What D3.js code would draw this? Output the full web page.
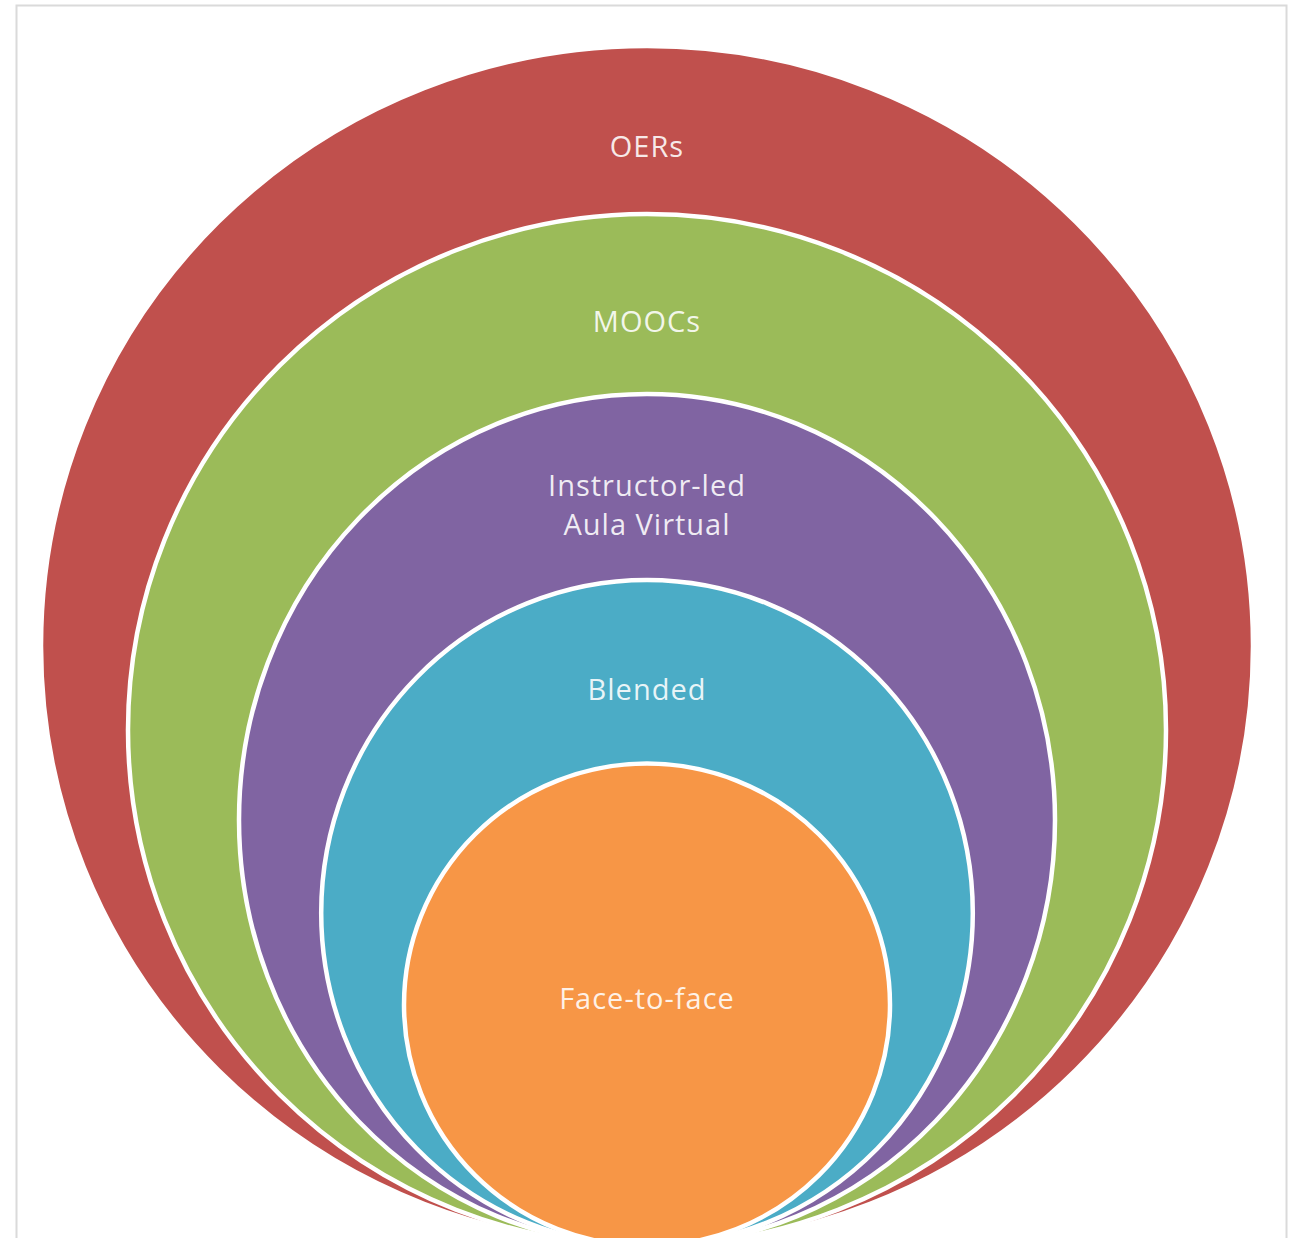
<!DOCTYPE html>
<html>
  <head>
    <meta charset="utf-8">
    <title>Stacked circles</title>
    <script src="https://d3js.org/d3.v7.min.js"></script>
    <style>
      body { margin: 0; background: #fff; }
      text { font-family: "Open Sans", "DejaVu Sans", sans-serif; }
    </style>
  </head>
  <body>

  <div id="chart"></div>

  <script>

  // outer to inner
  var labels = [["OERs"], ["MOOCs"], ["Instructor-led", "Aula Virtual"], ["Blended"], ["Face-to-face"]];
  var widths = [101, 86.5, 68, 54.3, 40.5];   // horizontal size of each ring
  var heights = [100, 86, 71, 55.5, 40.2];    // vertical size of each ring
  var colors = ["#C0504D", "#9BBB59", "#8064A2", "#4BACC6", "#F79646"];

  var width = 1294, height = 1238;
  var cx = 647, base = 1246; // all rings touch at this bottom point

  var r = d3.scaleLinear().domain([0, 100]).range([0, 600]);

  var svg = d3.select("#chart").append("svg")
      .attr("width", width)
      .attr("height", height);

  // thin frame of the original picture
  svg.append("rect")
      .attr("x", 16.5)
      .attr("y", 5.5)
      .attr("width", 1270)
      .attr("height", 1250)
      .attr("fill", "none")
      .attr("stroke", "#dadada")
      .attr("stroke-width", 2);

  var data = heights.map(function(d_, i_){
    return { h: d_, w: widths[i_], label: labels[i_], color: colors[i_], i: i_ };
  });

  svg.selectAll(".ring")
      .data(data)
      .enter()
      .append("ellipse")
      .attr("class", "ring")
      .attr("cx", cx)
      .attr("cy", function(d_){ return base - r(d_.h); })
      .attr("rx", function(d_){ return r(d_.w); })
      .attr("ry", function(d_){ return r(d_.h); })
      .attr("fill", function(d_){ return d_.color; })
      .attr("stroke", "#fff")
      .attr("stroke-width", 4.5);

  // label sits in the band between this ring top and the next one
  function labelY(d_){
    var top = base - 2 * r(d_.h);
    if (d_.i == heights.length - 1) return base - r(d_.h) - 6;
    var next = base - 2 * r(heights[d_.i + 1]);
    return top + 0.6 * (next - top);
  }

  var fs = 29, lineH = 39;

  svg.selectAll(".label")
      .data(data)
      .enter()
      .append("text")
      .attr("class", "label")
      .attr("x", cx)
      .attr("y", labelY)
      .attr("text-anchor", "middle")
      .attr("fill", "#fff")
      .attr("fill-opacity", 0.88)
      .attr("font-size", fs)
      .attr("letter-spacing", "1px")
      .each(function(d_){
        var n = d_.label.length;
        d3.select(this).selectAll("tspan")
          .data(d_.label)
          .enter()
          .append("tspan")
          .attr("x", cx)
          .attr("dy", function(t_, k_){ return k_ == 0 ? (0.35 - (n - 1) / 2 * lineH / fs) + "em" : lineH + "px"; })
          .text(function(t_){ return t_; });
      });

  </script>

  </body>
</html>
